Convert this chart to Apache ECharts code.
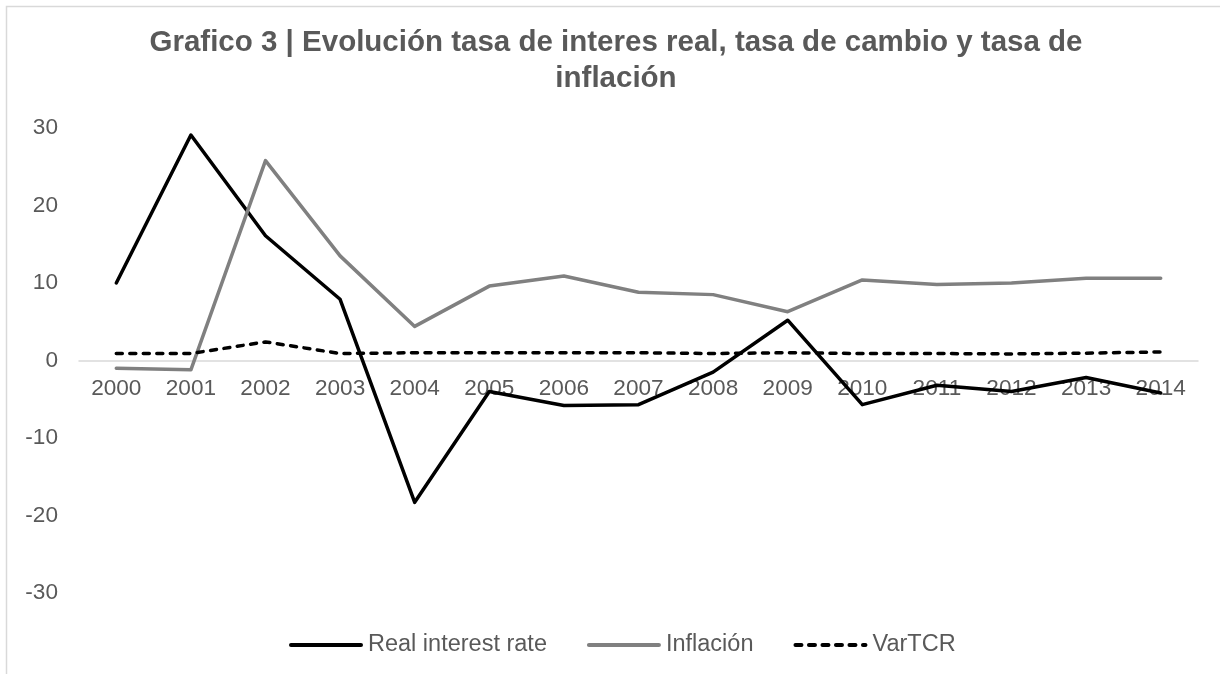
<!DOCTYPE html>
<html>
<head>
<meta charset="utf-8">
<script src="https://cdn.jsdelivr.net/npm/echarts@6/dist/echarts.min.js"></script>
<style>
html,body{margin:0;padding:0;background:#fff;}
#chart{width:1220px;height:674px;}
</style>
</head>
<body>
<div id="chart"></div>
<script>
const years = ['2000','2001','2002','2003','2004','2005','2006','2007','2008','2009','2010','2011','2012','2013','2014'];
const realInterestRate = [10.0, 29.1, 16.1, 7.9, -18.3, -4.0, -5.8, -5.7, -1.5, 5.2, -5.7, -3.2, -4.0, -2.2, -4.2];
const inflacion = [-1.0, -1.2, 25.8, 13.5, 4.4, 9.6, 10.9, 8.8, 8.5, 6.3, 10.4, 9.8, 10.0, 10.6, 10.6];
const varTCR = [0.9, 0.9, 2.4, 0.9, 1.0, 1.0, 1.0, 1.0, 0.9, 1.0, 0.9, 0.9, 0.85, 0.95, 1.1];
const yTicks = { min: -30, max: 30, interval: 10 };

const FONT = "'Liberation Sans', Arial, sans-serif";
const TEXT = '#595959';

const gridTop = 128, gridBottom = 81, chartH = 674;
const plotH = chartH - gridTop - gridBottom;
// distance from bottom of grid to the zero line (axis sits at zero, as in the reference)
const zeroOffset = plotH * (0 - yTicks.min) / (yTicks.max - yTicks.min);

const chart = echarts.init(document.getElementById('chart'), null, { renderer: 'canvas' });
chart.setOption({
  backgroundColor: '#ffffff',
  animation: false,
  graphic: [{
    type: 'rect',
    shape: { x: 6.5, y: 6.5, width: 1400, height: 900 },
    style: { fill: 'none', stroke: '#d9d9d9', lineWidth: 1.5 },
    silent: true, z: -1
  }],
  title: {
    text: 'Grafico 3 | Evolución tasa de interes real, tasa de cambio y tasa de\ninflación',
    left: 616,
    textAlign: 'center',
    top: 25,
    padding: 0,
    textStyle: { fontFamily: FONT, fontSize: 29.5, fontWeight: 'bold', color: TEXT, lineHeight: 36 }
  },
  legend: {
    left: 284,
    top: 628,
    itemWidth: 70,
    itemHeight: 14,
    itemGap: 40,
    itemStyle: { opacity: 0 },
    lineStyle: { width: 4 },
    textStyle: { fontFamily: FONT, fontSize: 23.5, color: TEXT, padding: [0, 0, 0, 2] },
    data: ['Real interest rate', 'Inflación', 'VarTCR']
  },
  grid: { left: 79, right: 22, top: gridTop, bottom: gridBottom, containLabel: false },
  xAxis: {
    type: 'category',
    data: years,
    boundaryGap: true,
    offset: -zeroOffset,
    axisLine: { onZero: false, lineStyle: { color: '#d9d9d9', width: 1.5 } },
    axisTick: { show: false },
    axisLabel: { fontFamily: FONT, fontSize: 22.6, color: TEXT, margin: 17 },
    splitLine: { show: false }
  },
  yAxis: {
    type: 'value',
    min: yTicks.min, max: yTicks.max, interval: yTicks.interval,
    axisLine: { show: false },
    axisTick: { show: false },
    splitLine: { show: false },
    axisLabel: { fontFamily: FONT, fontSize: 22.6, color: TEXT, margin: 21 }
  },
  series: [
    {
      name: 'Real interest rate', type: 'line', data: realInterestRate,
      symbol: 'none', itemStyle: { color: '#000000' },
      lineStyle: { color: '#000000', width: 3.5, cap: 'round', join: 'round' }
    },
    {
      name: 'Inflación', type: 'line', data: inflacion,
      symbol: 'none', itemStyle: { color: '#808080' },
      lineStyle: { color: '#808080', width: 3.5, cap: 'round', join: 'round' }
    },
    {
      name: 'VarTCR', type: 'line', data: varTCR,
      symbol: 'none', itemStyle: { color: '#000000' },
      lineStyle: { color: '#000000', width: 3.5, type: [6, 7.5], cap: 'round', join: 'round' }
    }
  ]
});
</script>
</body>
</html>
